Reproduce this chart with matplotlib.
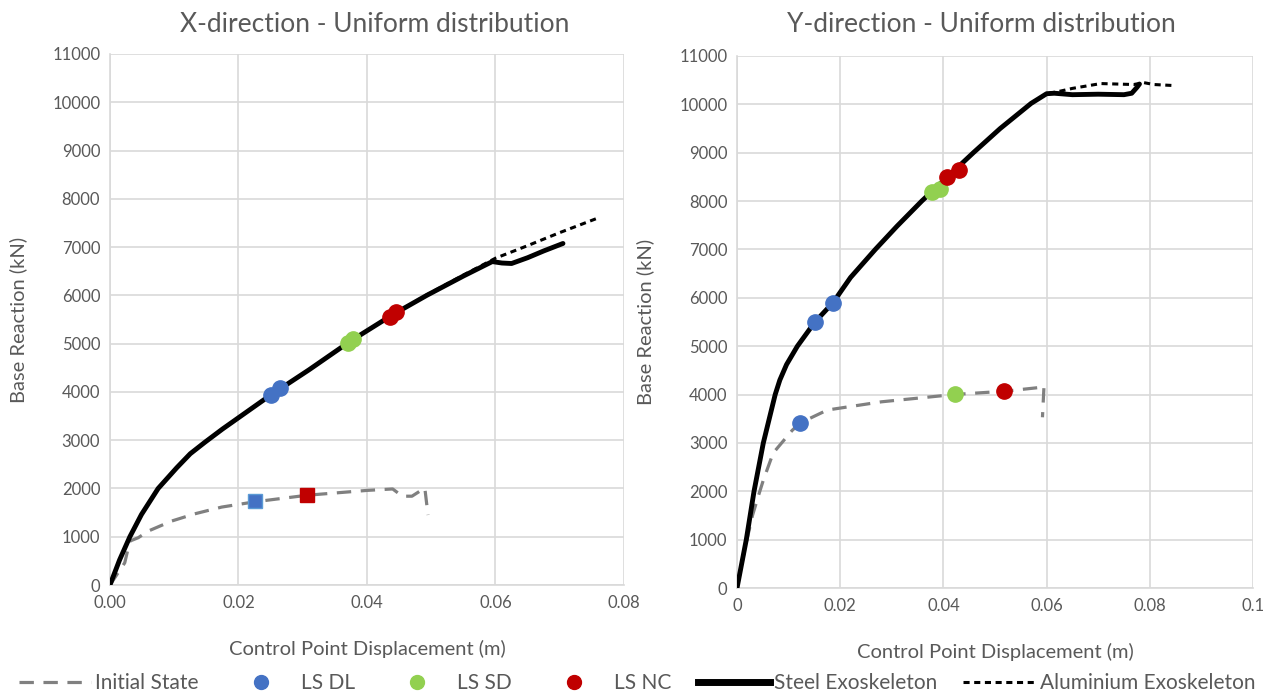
import matplotlib
matplotlib.use("Agg")
from matplotlib import pyplot as plt
from matplotlib.lines import Line2D

plt.rcParams['font.family'] = ['Lato', 'DejaVu Sans']

# colours
c_blue = '#4472C4'
c_green = '#92D050'
c_red = '#C00000'
c_grey = '#808080'
c_text = '#595959'

# ---- X-direction data ----
x_steel_x = [0, 0.0015, 0.0031, 0.0049, 0.0075, 0.0104, 0.0125, 0.0148, 0.0175, 0.020, 0.025, 0.0265,
             0.031, 0.0374, 0.044, 0.0493, 0.055, 0.0595, 0.061, 0.0625, 0.065, 0.0675, 0.0705]
y_steel_x = [0, 520, 1000, 1460, 2000, 2430, 2720, 2960, 3230, 3465, 3935, 4065,
             4460, 5050, 5600, 6000, 6400, 6700, 6670, 6660, 6780, 6920, 7075]
x_alu_x = [0, 0.0015, 0.0031, 0.0049, 0.0075, 0.0104, 0.0125, 0.0148, 0.0175, 0.020, 0.025, 0.0265,
           0.031, 0.0374, 0.044, 0.0493, 0.055, 0.060, 0.065, 0.070, 0.0757]
y_alu_x = [0, 520, 1000, 1460, 2000, 2430, 2720, 2960, 3230, 3465, 3935, 4065,
           4460, 5050, 5600, 6010, 6420, 6770, 7030, 7300, 7590]
x_init_x = [0, 0.0023, 0.0031, 0.0044, 0.006, 0.0096, 0.0132, 0.0174, 0.0226, 0.0307, 0.040,
            0.044, 0.0455, 0.047, 0.049, 0.0495]
y_init_x = [0, 460, 910, 980, 1120, 1325, 1475, 1615, 1725, 1860, 1960,
            1990, 1840, 1840, 2010, 1450]

dl_x = [0.0250, 0.0265]
dl_y = [3935, 4072]
sd_x = [0.0370, 0.0378]
sd_y = [5010, 5090]
nc_x = [0.0436, 0.0445]
nc_y = [5560, 5650]
dl0_x, dl0_y = [0.0226], [1740]
nc0_x, nc0_y = [0.0306], [1860]

# ---- Y-direction data ----
x_steel_y = [0, 0.0018, 0.0033, 0.0051, 0.0074, 0.0083, 0.0096, 0.0117, 0.0151, 0.0186, 0.022, 0.0268,
             0.031, 0.0358, 0.0458, 0.051, 0.057, 0.0600, 0.0615, 0.065, 0.070, 0.075, 0.0765, 0.0775, 0.078]
y_steel_y = [0, 1000, 2000, 3000, 4000, 4300, 4620, 5000, 5500, 5900, 6420, 7000,
             7480, 8000, 9000, 9500, 10020, 10220, 10230, 10200, 10210, 10200, 10230, 10350, 10420]
x_alu_y = [0, 0.0018, 0.0033, 0.0051, 0.0074, 0.0083, 0.0096, 0.0117, 0.0151, 0.0186, 0.022, 0.0268,
           0.031, 0.0358, 0.0458, 0.051, 0.057, 0.0600, 0.0625, 0.065, 0.0705, 0.0769, 0.0788, 0.0808, 0.0845]
y_alu_y = [0, 1000, 2000, 3000, 4000, 4300, 4620, 5000, 5500, 5900, 6420, 7000,
           7480, 8000, 9000, 9500, 10020, 10220, 10270, 10330, 10430, 10410, 10450, 10410, 10390]
x_init_y = [0, 0.0015, 0.003, 0.0041, 0.0051, 0.007, 0.0107, 0.0122, 0.0175, 0.028, 0.042,
            0.052, 0.059, 0.0595, 0.0592]
y_init_y = [0, 800, 1500, 1890, 2230, 2790, 3260, 3410, 3680, 3850, 4000,
            4070, 4150, 4180, 3530]

dl_y_x = [0.0122, 0.0151, 0.0186]
dl_y_y = [3410, 5500, 5890]
sd_y_x = [0.0378, 0.0394, 0.0423]
sd_y_y = [8188, 8258, 4010]
nc_y_x = [0.0407, 0.0430, 0.0518]
nc_y_y = [8498, 8636, 4070]

fig = plt.figure(figsize=(12.74, 6.93), dpi=100)
ax1 = fig.add_axes([0.0863, 0.1558, 0.4035, 0.7663])
ax2 = fig.add_axes([0.5785, 0.1515, 0.4050, 0.7677])

steel_kw = dict(color='black', lw=3.5, solid_capstyle='round', solid_joinstyle='round', zorder=3)
alu_kw = dict(color='black', lw=2.2, dashes=(2.0, 1.5), zorder=2)
init_kw = dict(color=c_grey, lw=2.3, dashes=(4.5, 3), zorder=2)


def style(ax, xmax, xticks, xlabels):
    ax.set_xlim(0, xmax)
    ax.set_ylim(0, 11000)
    ax.set_xticks(xticks)
    ax.set_xticklabels(xlabels)
    ax.set_yticks(range(0, 11001, 1000))
    ax.grid(color='#d9d9d9', lw=1.2)
    ax.set_axisbelow(True)
    for s in ['top', 'right']:
        ax.spines[s].set_visible(False)
    for s in ['left', 'bottom']:
        ax.spines[s].set_color('#d9d9d9')
        ax.spines[s].set_linewidth(1.2)
    ax.tick_params(length=0, labelsize=12, colors=c_text, pad=7)
    ax.set_xlabel('Control Point Displacement (m)', fontsize=14.5, color=c_text, labelpad=21)
    ax.set_ylabel('Base Reaction (kN)', fontsize=14.5, color=c_text, labelpad=18)


# X-direction
ax1.plot(x_alu_x, y_alu_x, **alu_kw)
ax1.plot(x_steel_x, y_steel_x, **steel_kw)
ax1.plot(x_init_x, y_init_x, **init_kw)
ax1.plot(dl_x, dl_y, 'o', color=c_blue, ms=11, zorder=4, ls='none')
ax1.plot(sd_x, sd_y, 'o', color=c_green, ms=11, zorder=4, ls='none')
ax1.plot(nc_x, nc_y, 'o', color=c_red, ms=11, zorder=4, ls='none')
ax1.plot(dl0_x, dl0_y, 's', color=c_blue, mec='#5B9BD5', ms=10, zorder=4, ls='none')
ax1.plot(nc0_x, nc0_y, 's', color=c_red, ms=10, zorder=4, ls='none')
style(ax1, 0.08, [0, 0.02, 0.04, 0.06, 0.08], ['0.00', '0.02', '0.04', '0.06', '0.08'])

# Y-direction
ax2.plot(x_alu_y, y_alu_y, **alu_kw)
ax2.plot(x_steel_y, y_steel_y, **steel_kw)
ax2.plot(x_init_y, y_init_y, **init_kw)
ax2.plot(dl_y_x, dl_y_y, 'o', color=c_blue, ms=11, zorder=4, ls='none')
ax2.plot(sd_y_x, sd_y_y, 'o', color=c_green, ms=11, zorder=4, ls='none')
ax2.plot(nc_y_x, nc_y_y, 'o', color=c_red, ms=11, zorder=4, ls='none')
style(ax2, 0.1, [0, 0.02, 0.04, 0.06, 0.08, 0.1], ['0', '0.02', '0.04', '0.06', '0.08', '0.1'])

# titles
fig.text(375 / 1274, 1 - 25 / 693, 'X-direction - Uniform distribution', ha='center', va='center',
         fontsize=19, color=c_text)
fig.text(981 / 1274, 1 - 25 / 693, 'Y-direction - Uniform distribution', ha='center', va='center',
         fontsize=19, color=c_text)

# legend
handles = [
    Line2D([], [], **init_kw),
    Line2D([], [], marker='o', color=c_blue, ms=10, ls='none'),
    Line2D([], [], marker='o', color=c_green, ms=10, ls='none'),
    Line2D([], [], marker='o', color=c_red, ms=10, ls='none'),
    Line2D([], [], color='black', lw=5),
    Line2D([], [], color='black', lw=2.2, dashes=(2.0, 1.5)),
]
labels = ['Initial State', 'LS DL', 'LS SD', 'LS NC', 'Steel Exoskeleton', 'Aluminium Exoskeleton']
leg = fig.legend(handles, labels, loc='center', bbox_to_anchor=(0.5, 1 - 683 / 693), ncol=6,
                 frameon=False, fontsize=15, handlelength=3.46, handletextpad=0.2,
                 columnspacing=1.25, borderpad=0, borderaxespad=0)
for t in leg.get_texts():
    t.set_color(c_text)

fig.savefig('out.png', dpi=100)
